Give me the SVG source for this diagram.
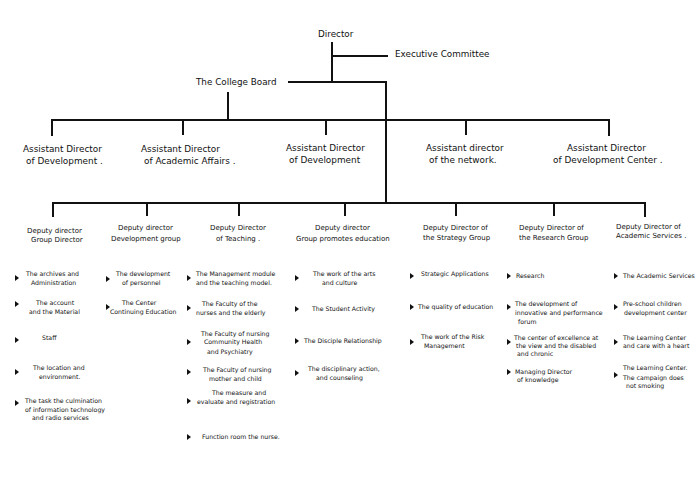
<svg xmlns="http://www.w3.org/2000/svg" width="700" height="500" viewBox="0 0 700 500">
<style>
text{font-family:"DejaVu Sans","Verdana",sans-serif;fill:#111}
.t{font-size:8.8px}
.a{font-size:8.9px}
.d{font-size:7px}
.b{font-size:6.2px}
.ln{stroke:#111;stroke-width:2;fill:none}
.bl{fill:#111}
</style>
<defs>
<polygon id="tri" points="0,-3 4,0 0,3"/>
</defs>
<rect width="700" height="500" fill="#fff"/>
<g id="connectors" class="ln">
<path d="M332,42V82M332,56H388M288,82H386V204M228,92V120"/>
<path d="M52,136V120H609V136M183,120V135M326,120V135M466,120V135"/>
<path d="M53,217V203H645V217M147,203V216M239,203V216M345,203V216M456,203V216M554,203V216"/>
</g>
<g id="director"><text class="t" x="318" y="37">Director</text></g>
<g id="executive"><text class="t" x="395" y="57">Executive Committee</text></g>
<g id="board"><text class="t" x="196" y="85">The College Board</text></g>
<g id="asst1"><text class="a" x="23" y="152">Assistant Director</text><text class="a" x="26" y="164">of Development .</text></g>
<g id="asst2"><text class="a" x="141" y="152">Assistant Director</text><text class="a" x="144" y="164">of Academic Affairs .</text></g>
<g id="asst3"><text class="a" x="286" y="151">Assistant Director</text><text class="a" x="289" y="163">of Development</text></g>
<g id="asst4"><text class="a" x="426" y="151">Assistant director</text><text class="a" x="429" y="163">of the network.</text></g>
<g id="asst5"><text class="a" x="567" y="151">Assistant Director</text><text class="a" x="553" y="163">of Development Center .</text></g>
<g id="dep1"><text class="d" x="27" y="232.5">Deputy director</text><text class="d" x="31" y="241.5">Group Director</text></g>
<g id="dep2"><text class="d" x="118" y="229.5">Deputy director</text><text class="d" x="111" y="240.5">Development group</text></g>
<g id="dep3"><text class="d" x="210" y="229.5">Deputy Director</text><text class="d" x="216" y="240.5">of Teaching .</text></g>
<g id="dep4"><text class="d" x="315" y="230">Deputy director</text><text class="d" x="296" y="240.5">Group promotes education</text></g>
<g id="dep5"><text class="d" x="423" y="229.5">Deputy Director of</text><text class="d" x="423" y="239.5">the Strategy Group</text></g>
<g id="dep6"><text class="d" x="519" y="229.5">Deputy Director of</text><text class="d" x="519" y="239.5">the Research Group</text></g>
<g id="dep7"><text class="d" x="616" y="228.5">Deputy Director of</text><text class="d" x="616" y="237.5">Academic Services .</text></g>
<g id="list1">
<g id="i1-1"><use href="#tri" x="15" y="278" class="bl"/><text class="b" x="26" y="276">The archives and</text><text class="b" x="31" y="285">Administration</text></g>
<g id="i1-2"><use href="#tri" x="15" y="304" class="bl"/><text class="b" x="36" y="305">The account</text><text class="b" x="29" y="314">and the Material</text></g>
<g id="i1-3"><use href="#tri" x="15" y="340" class="bl"/><text class="b" x="42" y="340">Staff</text></g>
<g id="i1-4"><use href="#tri" x="15" y="372" class="bl"/><text class="b" x="33" y="370">The location and</text><text class="b" x="39" y="379">environment.</text></g>
<g id="i1-5"><use href="#tri" x="15" y="403" class="bl"/><text class="b" x="25" y="403">The task the culmination</text><text class="b" x="25" y="412">of information technology</text><text class="b" x="32" y="420">and radio services</text></g>
</g>
<g id="list2">
<g id="i2-1"><use href="#tri" x="106" y="279" class="bl"/><text class="b" x="116" y="276">The development</text><text class="b" x="122" y="285">of personnel</text></g>
<g id="i2-2"><use href="#tri" x="106" y="307" class="bl"/><text class="b" x="122" y="305">The Center</text><text class="b" x="110" y="314">Continuing Education</text></g>
</g>
<g id="list3">
<g id="i3-1"><use href="#tri" x="187" y="278" class="bl"/><text class="b" x="196" y="276">The Management module</text><text class="b" x="196" y="285">and the teaching model.</text></g>
<g id="i3-2"><use href="#tri" x="187" y="308" class="bl"/><text class="b" x="202" y="306">The Faculty of the</text><text class="b" x="196" y="315">nurses and the elderly</text></g>
<g id="i3-3"><use href="#tri" x="187" y="342" class="bl"/><text class="b" x="201" y="336">The Faculty of nursing</text><text class="b" x="204" y="344">Community Health</text><text class="b" x="207" y="354">and Psychiatry</text></g>
<g id="i3-4"><use href="#tri" x="187" y="372" class="bl"/><text class="b" x="203" y="372">The Faculty of nursing</text><text class="b" x="209" y="381">mother and child</text></g>
<g id="i3-5"><use href="#tri" x="187" y="401" class="bl"/><text class="b" x="212" y="395">The measure and</text><text class="b" x="197" y="404">evaluate and registration</text></g>
<g id="i3-6"><use href="#tri" x="187" y="437" class="bl"/><text class="b" x="202" y="439">Function room the nurse.</text></g>
</g>
<g id="list4">
<g id="i4-1"><use href="#tri" x="295" y="278" class="bl"/><text class="b" x="313" y="276">The work of the arts</text><text class="b" x="322" y="285">and culture</text></g>
<g id="i4-2"><use href="#tri" x="295" y="309" class="bl"/><text class="b" x="312" y="311">The Student Activity</text></g>
<g id="i4-3"><use href="#tri" x="295" y="341" class="bl"/><text class="b" x="304" y="343">The Disciple Relationship</text></g>
<g id="i4-4"><use href="#tri" x="295" y="373" class="bl"/><text class="b" x="308" y="371">The disciplinary action,</text><text class="b" x="316" y="380">and counseling</text></g>
</g>
<g id="list5">
<g id="i5-1"><use href="#tri" x="410" y="276" class="bl"/><text class="b" x="421" y="276">Strategic Applications</text></g>
<g id="i5-2"><use href="#tri" x="410" y="307" class="bl"/><text class="b" x="418" y="309">The quality of education</text></g>
<g id="i5-3"><use href="#tri" x="410" y="342" class="bl"/><text class="b" x="421" y="339">The work of the Risk</text><text class="b" x="424" y="348">Management</text></g>
</g>
<g id="list6">
<g id="i6-1"><use href="#tri" x="507" y="276" class="bl"/><text class="b" x="516" y="278">Research</text></g>
<g id="i6-2"><use href="#tri" x="507" y="307" class="bl"/><text class="b" x="515" y="306">The development of</text><text class="b" x="515" y="315">innovative and performance</text><text class="b" x="518" y="324">forum</text></g>
<g id="i6-3"><use href="#tri" x="507" y="342" class="bl"/><text class="b" x="514" y="340">The center of excellence at</text><text class="b" x="516" y="348">the view and the disabled</text><text class="b" x="517" y="356">and chronic</text></g>
<g id="i6-4"><use href="#tri" x="507" y="372" class="bl"/><text class="b" x="515" y="374">Managing Director</text><text class="b" x="517" y="382">of knowledge</text></g>
</g>
<g id="list7">
<g id="i7-1"><use href="#tri" x="614" y="276" class="bl"/><text class="b" x="623" y="278">The Academic Services</text></g>
<g id="i7-2"><use href="#tri" x="614" y="307" class="bl"/><text class="b" x="623" y="306">Pre-school children</text><text class="b" x="624" y="315">development center</text></g>
<g id="i7-3"><use href="#tri" x="614" y="342" class="bl"/><text class="b" x="623" y="340">The Learning Center</text><text class="b" x="623" y="348">and care with a heart</text></g>
<g id="i7-4"><use href="#tri" x="614" y="375" class="bl"/><text class="b" x="623" y="370">The Learning Center.</text><text class="b" x="623" y="380">The campaign does</text><text class="b" x="626" y="388">not smoking</text></g>
</g>
</svg>
